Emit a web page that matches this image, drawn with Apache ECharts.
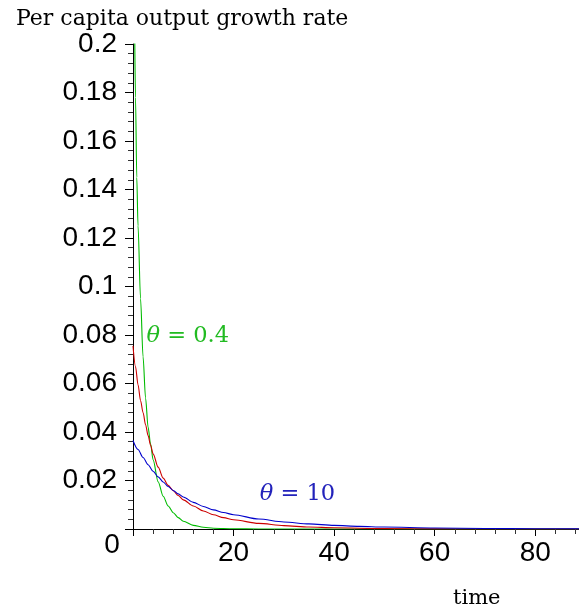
<!DOCTYPE html>
<html>
<head>
<meta charset="utf-8">
<script src="https://cdn.jsdelivr.net/npm/echarts@6/dist/echarts.min.js"></script>
<style>
  html, body { margin: 0; padding: 0; background: #fff; }
  #chart { width: 579px; height: 615px; }
</style>
</head>
<body>
<div id="chart"></div>
<script>
// Time grid and growth-rate paths for three values of theta
const timeLow = [0, 0.25, 0.5, 0.75, 1, 1.5, 2, 2.5, 3, 3.5, 4, 5, 6, 7, 8, 9, 10, 12, 14, 16, 20, 25, 30, 40, 60, 88.7];
const rateLow = [0.29, 0.215, 0.178, 0.145, 0.125, 0.095, 0.071, 0.054, 0.042, 0.035, 0.0285, 0.0195, 0.0135, 0.0095, 0.0067, 0.0047, 0.0032, 0.0015, 0.0007, 0.0003, 0.0001, 0.00002, 0, 0, 0, 0];

const timeMid = [0, 0.5, 1, 1.5, 2, 2.5, 3, 3.5, 4, 5, 6, 7, 8, 9, 10, 12, 14, 16, 18, 20, 25, 30, 35, 40, 50, 60, 70, 88.7];
const rateMid = [0.0755, 0.067, 0.0595, 0.053, 0.048, 0.043, 0.0385, 0.0345, 0.031, 0.0255, 0.021, 0.018, 0.0158, 0.0138, 0.012, 0.0095, 0.0074, 0.0059, 0.0047, 0.0038, 0.0023, 0.0014, 0.0008, 0.0005, 0.00015, 0.00005, 0.00001, 0];

const timeHigh = [0, 1, 2, 3, 4, 5, 6, 7, 8, 9, 10, 12, 14, 16, 18, 20, 25, 30, 35, 40, 45, 50, 60, 70, 80, 88.7];
const rateHigh = [0.0365, 0.0328, 0.0295, 0.0265, 0.0238, 0.0215, 0.0194, 0.0175, 0.0159, 0.0145, 0.0132, 0.011, 0.0093, 0.0079, 0.0068, 0.0059, 0.0041, 0.0029, 0.0021, 0.0015, 0.0011, 0.0008, 0.0004, 0.0002, 0.0001, 0.00005];

// Curve annotations: [time, rate] anchor and text
const labelLowAt = [2.68, 0.0796];
const labelHighAt = [25.2, 0.0142];
const labelLowText = '0.4';
const labelHighText = '10';

const xTicks = { min: 0, max: 88.7, interval: 20 };
const yTicks = { min: 0, max: 0.2, interval: 0.02 };

const zip = (xs, ys) => xs.map((x, i) => [x, ys[i]]);

const serif = '"DejaVu Serif", "Liberation Serif", serif';
const sans = '"Liberation Sans", Arial, sans-serif';

function thetaLabel(text, color) {
  return {
    show: true,
    position: 'right',
    distance: 0,
    formatter: '{t|θ}{e| = ' + text + '}',
    rich: {
      t: { fontFamily: serif, fontStyle: 'italic', fontSize: 22.5, color: color },
      e: { fontFamily: serif, fontSize: 22.5, color: color }
    }
  };
}

function curve(xs, ys, color) {
  return {
    type: 'line',
    data: zip(xs, ys),
    showSymbol: false,
    smooth: 0.3,
    smoothMonotone: 'x',
    clip: true,
    lineStyle: { color: color, width: 1.1 }
  };
}

const chart = echarts.init(document.getElementById('chart'), null, { renderer: 'canvas' });

const low = curve(timeLow, rateLow, '#00bb00');
low.markPoint = {
  symbol: 'circle', symbolSize: 0,
  data: [{ coord: labelLowAt }],
  label: thetaLabel(labelLowText, '#22bb22')
};
const mid = curve(timeMid, rateMid, '#cc0000');
const high = curve(timeHigh, rateHigh, '#0000cc');
high.markPoint = {
  symbol: 'circle', symbolSize: 0,
  data: [{ coord: labelHighAt }],
  label: thetaLabel(labelHighText, '#2222bb')
};

chart.setOption({
  animation: false,
  backgroundColor: '#ffffff',
  title: {
    text: 'Per capita output growth rate',
    left: 11,
    top: 3,
    textStyle: { fontFamily: serif, fontWeight: 'normal', fontSize: 22, color: '#000' }
  },
  graphic: [{
    type: 'text',
    left: 453,
    top: 588,
    style: { text: 'time', fontFamily: serif, fontSize: 21, fill: '#000' }
  }],
  grid: { left: 133, right: 0, top: 44, bottom: 86, containLabel: false },
  xAxis: {
    type: 'value',
    min: xTicks.min,
    max: xTicks.max,
    interval: xTicks.interval,
    axisLine: { lineStyle: { color: '#000', width: 1 } },
    axisTick: { show: true, length: 7, lineStyle: { color: '#000' } },
    minorTick: { show: true, splitNumber: 5, length: 5, lineStyle: { color: '#333' } },
    splitLine: { show: false },
    axisLabel: {
      showMaxLabel: false,
      margin: 10,
      fontFamily: sans,
      fontSize: 28,
      color: '#000',
      formatter: v => (v === 0 ? '{z|0}' : String(v)),
      rich: {
        z: { fontFamily: sans, fontSize: 28, color: '#000', lineHeight: 12, padding: [0, 42, 0, 0] }
      }
    }
  },
  yAxis: {
    type: 'value',
    min: yTicks.min,
    max: yTicks.max,
    interval: yTicks.interval,
    axisLine: { show: true, lineStyle: { color: '#000', width: 1 } },
    axisTick: { show: true, length: 8, lineStyle: { color: '#000' } },
    minorTick: { show: true, splitNumber: 5, length: 5, lineStyle: { color: '#333' } },
    splitLine: { show: false },
    axisLabel: {
      margin: 16,
      fontFamily: sans,
      fontSize: 28,
      color: '#000',
      formatter: v => (v === 0 ? '' : String(+v.toFixed(2)))
    }
  },
  series: [low, mid, high]
});
</script>
</body>
</html>
